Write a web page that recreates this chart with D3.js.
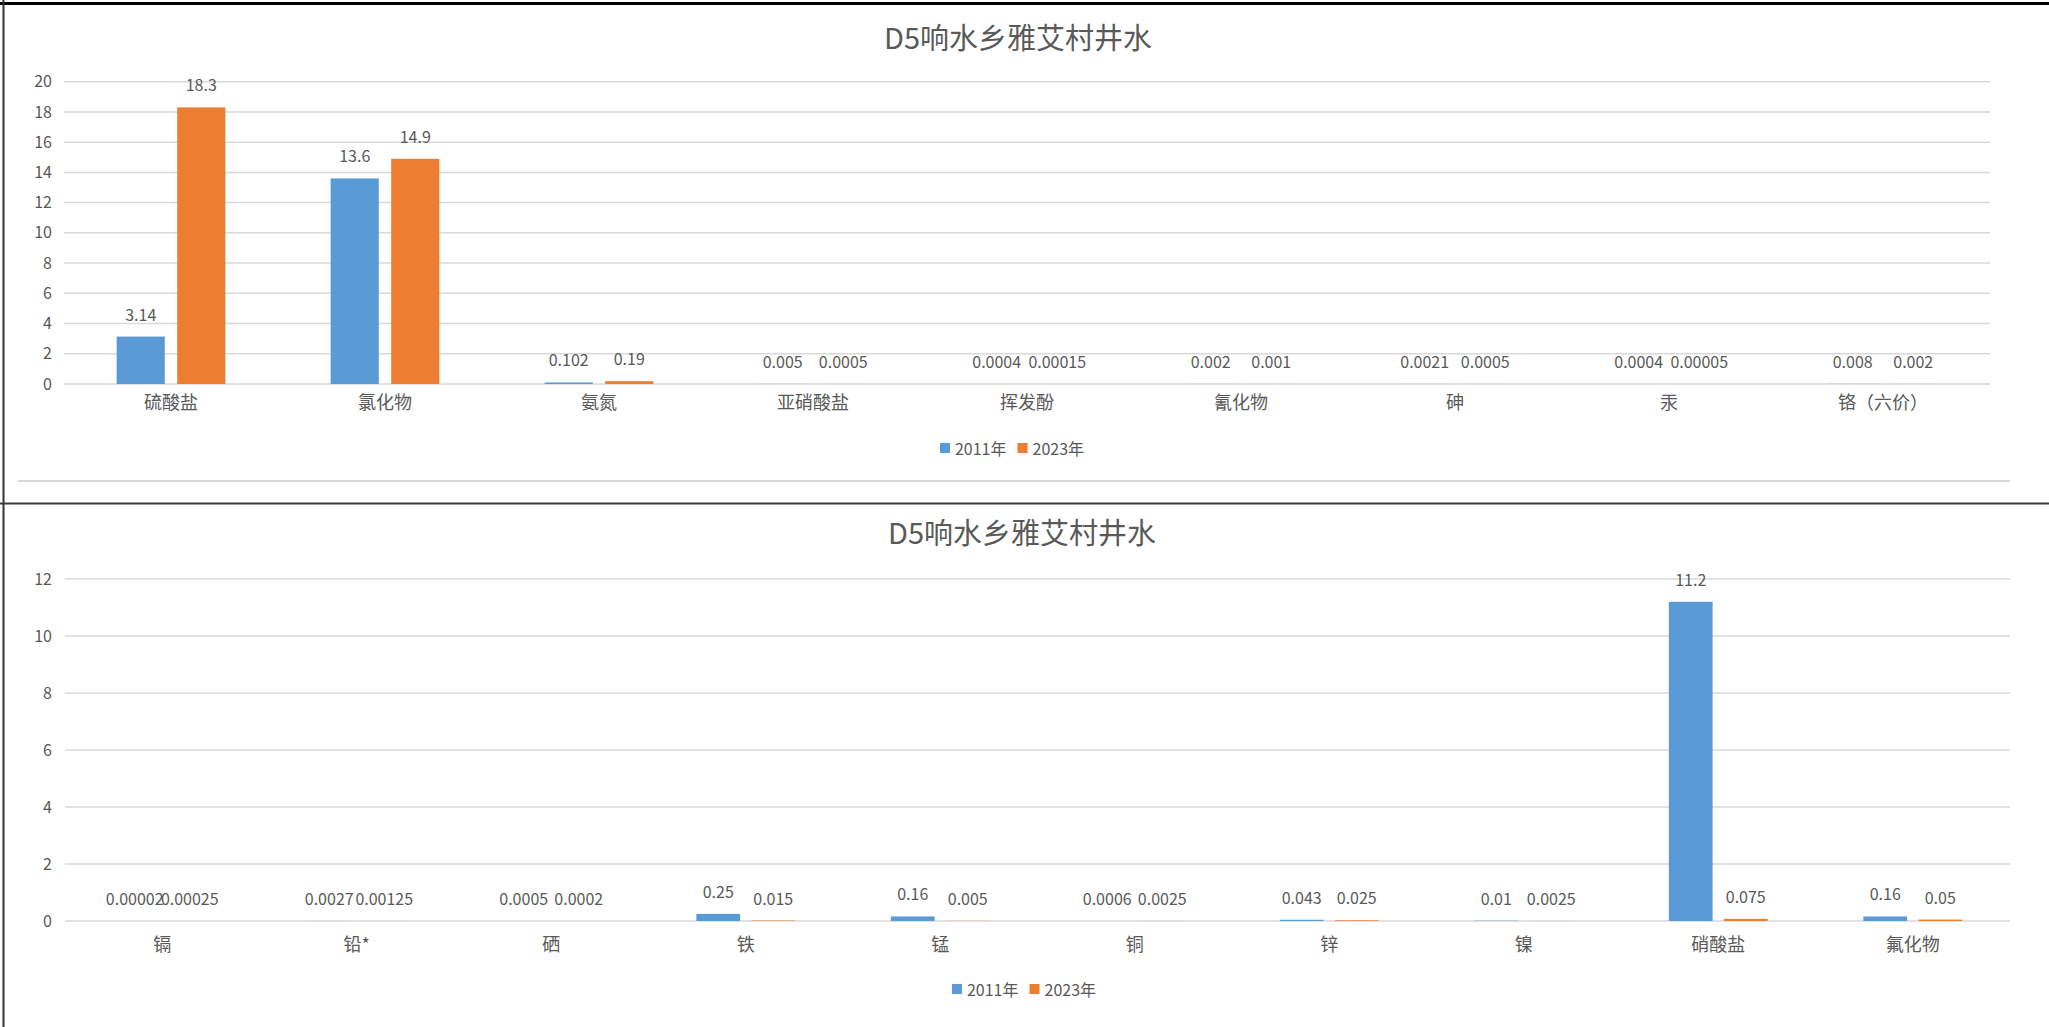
<!DOCTYPE html>
<html>
<head>
<meta charset="utf-8">
<script src="https://cdn.jsdelivr.net/npm/d3@7"></script>
<style>
  html, body { margin: 0; padding: 0; background: #fff; }
  svg { display: block; }
  text { font-family: "Noto Sans CJK SC", "Noto Sans", sans-serif; fill: #595959; }
</style>
</head>
<body>
<svg id="chart" width="2049" height="1027"></svg>
<script>
// ---------- data ----------
const titleText = "D5响水乡雅艾村井水";
const seriesNames = ["2011年", "2023年"];
const seriesColors = ["#5B9BD5", "#ED7D31"];

const topCategories = ["硫酸盐", "氯化物", "氨氮", "亚硝酸盐", "挥发酚", "氰化物", "砷", "汞", "铬（六价）"];
const top2011 = [3.14, 13.6, 0.102, 0.005, 0.0004, 0.002, 0.0021, 0.0004, 0.008];
const top2023 = [18.3, 14.9, 0.19, 0.0005, 0.00015, 0.001, 0.0005, 0.00005, 0.002];
const topTicks = [0, 2, 4, 6, 8, 10, 12, 14, 16, 18, 20];

const bottomCategories = ["镉", "铅*", "硒", "铁", "锰", "铜", "锌", "镍", "硝酸盐", "氟化物"];
const bottom2011 = [0.00002, 0.0027, 0.0005, 0.25, 0.16, 0.0006, 0.043, 0.01, 11.2, 0.16];
const bottom2023 = [0.00025, 0.00125, 0.0002, 0.015, 0.005, 0.0025, 0.025, 0.0025, 0.075, 0.05];
const bottomTicks = [0, 2, 4, 6, 8, 10, 12];

// ---------- drawing ----------
const svg = d3.select("#chart");

function drawChart(cfg) {
  const g = svg.append("g");
  const x = d3.scaleBand().domain(cfg.categories).range([cfg.x0, cfg.x1]).padding(0);
  const y = d3.scaleLinear().domain([0, d3.max(cfg.ticks)]).range([cfg.yBottom, cfg.yTop]);
  const bw = x.bandwidth();
  const barW = bw * 0.225;
  const gap = bw * 0.058;
  const offset = (bw - 2 * barW - gap) / 2;
  const sub = d3.scaleOrdinal().domain([0, 1]).range([offset, offset + barW + gap]);

  // gridlines
  g.append("g").selectAll("line").data(cfg.ticks).join("line")
    .attr("x1", cfg.x0).attr("x2", cfg.x1)
    .attr("y1", d => y(d)).attr("y2", d => y(d))
    .attr("stroke", "#d9d9d9").attr("stroke-width", 1.5);

  // y axis labels
  const yAxis = d3.axisLeft(y).tickValues(cfg.ticks).tickSize(0).tickPadding(0);
  const ya = g.append("g").attr("transform", `translate(${cfg.yLabelX},0)`).call(yAxis);
  ya.select(".domain").remove();
  ya.selectAll("text").style("font-size", "16px").attr("fill", "#595959")
    .style("font-family", '"Noto Sans CJK SC", sans-serif');

  // bars
  const series = [cfg.s2011, cfg.s2023];
  series.forEach((vals, si) => {
    const data = cfg.categories.map((c, i) => ({ c, v: vals[i] }));
    g.append("g").selectAll("rect").data(data).join("rect")
      .attr("x", d => x(d.c) + sub(si))
      .attr("width", barW)
      .attr("y", d => y(d.v))
      .attr("height", d => y(0) - y(d.v))
      .attr("fill", seriesColors[si]);
    g.append("g").selectAll("text").data(data).join("text")
      .attr("x", d => x(d.c) + sub(si) + barW / 2)
      .attr("y", d => y(d.v) - 16)
      .attr("text-anchor", "middle")
      .style("font-size", "16px")
      .text(d => String(d.v));
  });

  // x axis labels
  const xAxis = d3.axisBottom(x).tickSize(0).tickPadding(0);
  const xa = g.append("g").attr("transform", `translate(0,${cfg.catY})`).call(xAxis);
  xa.select(".domain").remove();
  xa.selectAll("text").attr("dy", "0.35em").attr("y", 0)
    .style("font-size", "18px").attr("fill", "#595959")
    .style("font-family", '"Noto Sans CJK SC", sans-serif');

  // title
  g.append("text").attr("x", cfg.titleX).attr("y", cfg.titleY)
    .attr("text-anchor", "middle").attr("dominant-baseline", "central")
    .style("font-size", "29px").text(titleText);

  // legend
  const lg = g.append("g");
  const items = seriesNames.map((n, i) => ({ n, c: seriesColors[i] }));
  const tmp = items.map(it => {
    const t = lg.append("text").style("font-size", "16px").attr("dominant-baseline", "central").text(it.n);
    return { t, w: t.node().getComputedTextLength(), c: it.c };
  });
  const sq = 10, sqGap = 5, itemGap = 11;
  const total = tmp.reduce((s, d) => s + sq + sqGap + d.w, 0) + itemGap * (tmp.length - 1);
  let cx = cfg.legendX - total / 2;
  tmp.forEach(d => {
    lg.append("rect").attr("x", cx).attr("y", cfg.legendY - sq / 2).attr("width", sq).attr("height", sq).attr("fill", d.c);
    d.t.attr("x", cx + sq + sqGap).attr("y", cfg.legendY);
    cx += sq + sqGap + d.w + itemGap;
  });
}

drawChart({
  categories: topCategories, s2011: top2011, s2023: top2023, ticks: topTicks,
  x0: 64, x1: 1990, yTop: 81.7, yBottom: 384, yLabelX: 52, catY: 403,
  titleX: 1018, titleY: 36, legendX: 1012, legendY: 448
});

drawChart({
  categories: bottomCategories, s2011: bottom2011, s2023: bottom2023, ticks: bottomTicks,
  x0: 65, x1: 2010, yTop: 579, yBottom: 921, yLabelX: 52, catY: 945,
  titleX: 1022, titleY: 531, legendX: 1024, legendY: 989
});

// frame lines
svg.append("line").attr("x1", 18).attr("x2", 2010).attr("y1", 481).attr("y2", 481)
  .attr("stroke", "#d9d9d9").attr("stroke-width", 2);
svg.append("line").attr("x1", 0).attr("x2", 2049).attr("y1", 3.5).attr("y2", 3.5)
  .attr("stroke", "#000").attr("stroke-width", 3);
svg.append("line").attr("x1", 3.5).attr("x2", 3.5).attr("y1", 0).attr("y2", 1027)
  .attr("stroke", "#333").attr("stroke-width", 2);
svg.append("line").attr("x1", 0).attr("x2", 2049).attr("y1", 503.5).attr("y2", 503.5)
  .attr("stroke", "#3a3a3a").attr("stroke-width", 2);
</script>
</body>
</html>
